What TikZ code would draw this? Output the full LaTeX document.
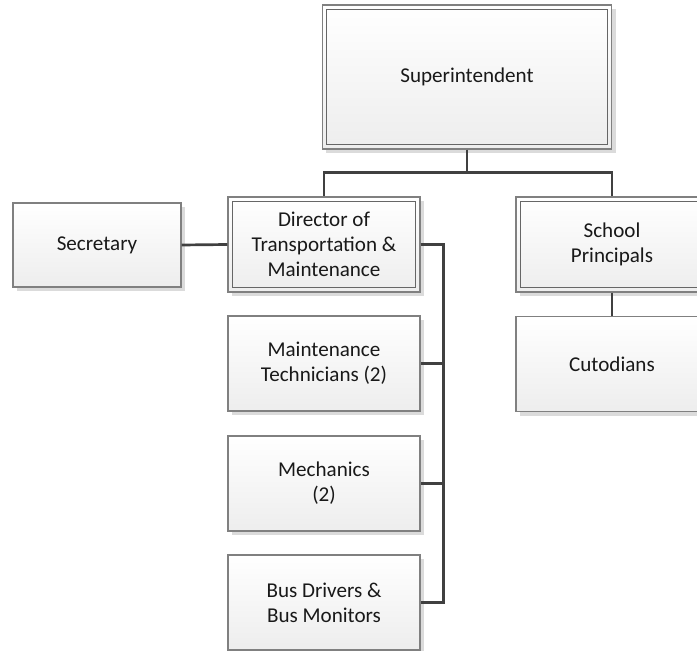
\documentclass[tikz,border=0pt]{standalone}
\usepackage{fontspec}
\setmainfont{Carlito}
\usepackage{tikz}
\usetikzlibrary{calc,positioning,shadows}

\begin{document}
\begin{tikzpicture}[x=0.03cm, y=-0.03cm,
  box/.style={draw=black!50, line width=0.9pt, top color=white, bottom color=black!7,
    minimum width=5.76cm, minimum height=2.85cm, align=center,
    font=\fontsize{18}{21.5}\selectfont, text=black!90,
    general shadow={fill=black!14, shadow xshift=0.12cm, shadow yshift=-0.12cm}},
  inner/.style={draw=black!60, line width=0.9pt},
  link/.style={draw=black!75, line width=2.3pt}]

\clip (0,0) rectangle (697,651);

% Livello 1
\node[box, minimum width=8.67cm, minimum height=4.32cm] (sup) at (467,77) {Superintendent};
\draw[inner] ($(sup.north west)+(5,5)$) rectangle ($(sup.south east)+(-5,-5)$);

% Livello 2
\node[box] (dir) at (324,244.5) {Director of\\Transportation \&\\Maintenance};
\draw[inner] ($(dir.north west)+(5,5)$) rectangle ($(dir.south east)+(-5,-5)$);
\node[box] (pri) at (612,244.5) {School\\Principals};
\draw[inner] ($(pri.north west)+(5,5)$) rectangle ($(pri.south east)+(-5,-5)$);
\node[box, minimum width=5.04cm, minimum height=2.52cm] (sec) at (97,245) {Secretary};

% Personale
\node[box] (mnt) at (324,363.5) {Maintenance\\Technicians (2)};
\node[box] (mec) at (324,483.5) {Mechanics\\(2)};
\node[box] (bus) at (324,602.5) {Bus Drivers \&\\Bus Monitors};
\node[box] (cus) at (612,364) {Cutodians};

% Collegamenti
\draw[link] (sup.south) -- ++(0,23) -| (dir.north);
\draw[link] (sup.south) -- ++(0,23) -| (pri.north);
\draw[link] (sec.east) -- (dir.west);
\draw[link] (pri.south) -- (cus.north);
\draw[link] (dir.east) -- ++(23,0) |- (mnt.east);
\draw[link] (dir.east) -- ++(23,0) |- (mec.east);
\draw[link] (dir.east) -- ++(23,0) |- (bus.east);

\end{tikzpicture}
\end{document}
